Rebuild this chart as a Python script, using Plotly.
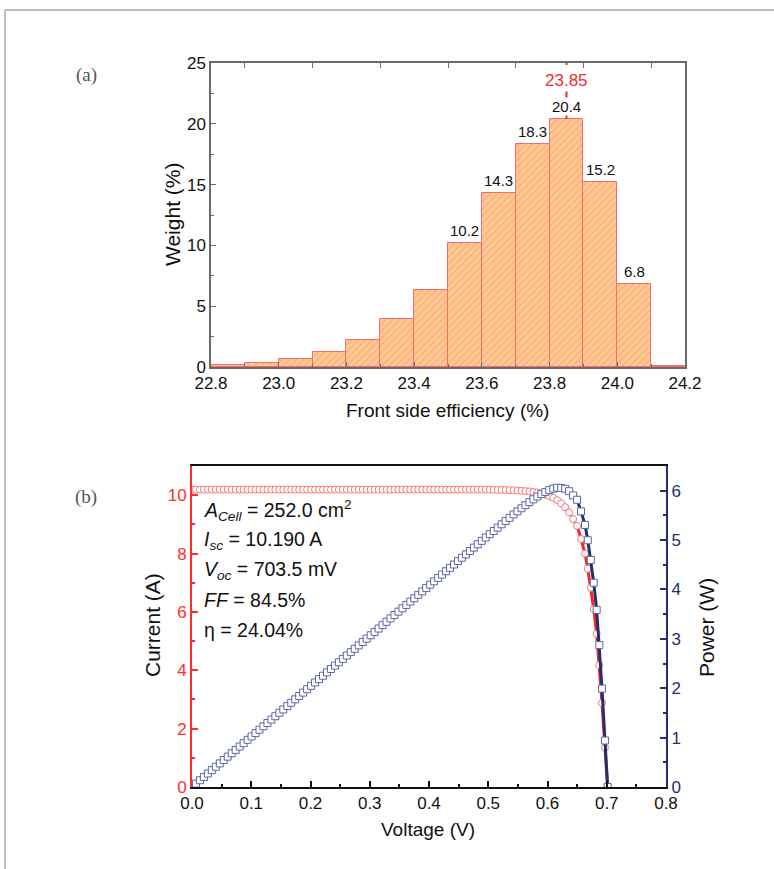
import plotly.graph_objects as go

# ---------------- data: (a) histogram ----------------
bin_left = [22.8, 22.9, 23.0, 23.1, 23.2, 23.3, 23.4, 23.5, 23.6, 23.7, 23.8, 23.9, 24.0, 24.1]
bin_width = 0.1
weight = [0.19, 0.30, 0.64, 1.22, 2.21, 3.95, 6.33, 10.2, 14.3, 18.3, 20.4, 15.2, 6.8, 0.08]
bar_labels = ["", "", "", "", "", "", "", "10.2", "14.3", "18.3", "20.4", "15.2", "6.8", ""]
peak_eff = 23.85
hist_xticks = [22.8, 23.0, 23.2, 23.4, 23.6, 23.8, 24.0, 24.2]
hist_top_ticks = [22.9, 23.1, 23.3, 23.5, 23.7, 23.9, 24.1]

# ---------------- data: (b) I-V / P-V curve ----------------
voltage = [
    0.0000, 0.0067, 0.0134, 0.0201, 0.0268, 0.0335, 0.0402, 0.0469, 0.0536, 0.0603,
    0.0670, 0.0737, 0.0804, 0.0871, 0.0938, 0.1005, 0.1072, 0.1139, 0.1206, 0.1273,
    0.1340, 0.1407, 0.1474, 0.1541, 0.1608, 0.1675, 0.1742, 0.1809, 0.1876, 0.1943,
    0.2010, 0.2077, 0.2144, 0.2211, 0.2278, 0.2345, 0.2412, 0.2479, 0.2546, 0.2613,
    0.2680, 0.2747, 0.2814, 0.2881, 0.2948, 0.3015, 0.3082, 0.3149, 0.3216, 0.3283,
    0.3350, 0.3417, 0.3484, 0.3551, 0.3618, 0.3685, 0.3752, 0.3819, 0.3886, 0.3953,
    0.4020, 0.4087, 0.4154, 0.4221, 0.4288, 0.4355, 0.4422, 0.4489, 0.4556, 0.4623,
    0.4690, 0.4757, 0.4824, 0.4891, 0.4958, 0.5025, 0.5092, 0.5159, 0.5226, 0.5293,
    0.5360, 0.5427, 0.5494, 0.5561, 0.5628, 0.5695, 0.5762, 0.5829, 0.5896, 0.5963,
    0.6030, 0.6097, 0.6164, 0.6231, 0.6298, 0.6365, 0.6432, 0.6499, 0.6566, 0.6633,
    0.6680, 0.6730, 0.6780, 0.6830, 0.6875, 0.6920, 0.6970, 0.7015,
]
current = [
    10.19, 10.19, 10.19, 10.19, 10.19, 10.19, 10.19, 10.19, 10.19, 10.19,
    10.19, 10.19, 10.19, 10.19, 10.19, 10.19, 10.19, 10.19, 10.19, 10.19,
    10.19, 10.19, 10.19, 10.19, 10.19, 10.19, 10.19, 10.19, 10.19, 10.19,
    10.19, 10.19, 10.19, 10.19, 10.19, 10.19, 10.19, 10.19, 10.19, 10.19,
    10.19, 10.19, 10.19, 10.19, 10.19, 10.19, 10.19, 10.19, 10.19, 10.19,
    10.19, 10.19, 10.19, 10.19, 10.19, 10.19, 10.19, 10.19, 10.19, 10.19,
    10.19, 10.19, 10.19, 10.19, 10.19, 10.19, 10.19, 10.19, 10.19, 10.19,
    10.19, 10.19, 10.19, 10.19, 10.19, 10.19, 10.18, 10.18, 10.18, 10.18,
    10.17, 10.17, 10.16, 10.15, 10.14, 10.13, 10.11, 10.09, 10.06, 10.02,
    9.97, 9.91, 9.83, 9.72, 9.59, 9.41, 9.18, 8.95, 8.50, 8.00,
    7.48, 6.83, 6.10, 5.25, 4.18, 2.88, 1.35, 0.00,
]
power = [v * i for v, i in zip(voltage, current)]

info_lines = [
    "<i>A</i><sub><i>Cell</i></sub> = 252.0 cm<sup>2</sup>",
    "<i>I</i><sub><i>sc</i></sub> = 10.190 A",
    "<i>V</i><sub><i>oc</i></sub> = 703.5 mV",
    "<i>FF</i> = 84.5%",
    "\u03b7 = 24.04%",
]

# ---------------- styling ----------------
W, H = 774, 869
FONT = "Liberation Sans, Arial, sans-serif"
GRAY = "#6a6a6a"
BAR_FILL = "#FFC891"
BAR_HATCH = "#F0735A"
BAR_EDGE = "#F26E6E"
RED = "#FF2E2E"
RED_LINE = "#FF2020"
RED_MARK = "#F27878"
NAVY = "#22306E"
NAVY_MARK = "#5A67A6"


def px(x):
    return x / W


def py(y):
    return 1 - y / H


fig = go.Figure()

# histogram bars
fig.add_trace(go.Bar(
    x=bin_left, y=weight, width=bin_width, offset=0,
    marker=dict(color=BAR_FILL, line=dict(color=BAR_EDGE, width=1),
                pattern=dict(shape="/", fgcolor=BAR_HATCH, size=5, solidity=0.18, fillmode="overlay")),
    xaxis="x", yaxis="y", showlegend=False, hoverinfo="skip",
))
# dummy trace for top tick axis
fig.add_trace(go.Scatter(x=[22.8], y=[0], mode="markers", marker=dict(opacity=0),
                         xaxis="x4", yaxis="y", showlegend=False, hoverinfo="skip"))

# dashed peak line
peak_val = max(weight)
fig.add_shape(type="line", xref="x", yref="y", x0=peak_eff, x1=peak_eff, y0=peak_val, y1=25,
              line=dict(color="#E8302E", width=2, dash="12px,6px"), layer="above")

# bar labels
for xl, v, lab in zip(bin_left, weight, bar_labels):
    if lab:
        fig.add_annotation(x=xl + bin_width / 2, y=v, xref="x", yref="y", text=lab,
                           showarrow=False, xanchor="center", yanchor="bottom", yshift=3,
                           font=dict(family=FONT, size=15, color="#111111"),
                           bgcolor="white" if v == peak_val else "rgba(0,0,0,0)", borderpad=0)
fig.add_annotation(x=peak_eff, y=23.6, xref="x", yref="y", text=f"{peak_eff:.2f}",
                   showarrow=False, xanchor="center", yanchor="middle",
                   font=dict(family=FONT, size=17, color="#E8302E"),
                   bgcolor="white", borderpad=1)

# IV curve
fig.add_trace(go.Scatter(
    x=voltage, y=current, mode="lines+markers", xaxis="x2", yaxis="y2",
    line=dict(color=RED_LINE, width=3),
    marker=dict(symbol="circle", size=7, color="white", line=dict(color=RED_MARK, width=1)),
    showlegend=False, hoverinfo="skip",
))
fig.add_trace(go.Scatter(
    x=voltage, y=power, mode="lines+markers", xaxis="x2", yaxis="y3",
    line=dict(color=NAVY, width=3),
    marker=dict(symbol="square", size=7, color="white", line=dict(color=NAVY_MARK, width=1)),
    showlegend=False, hoverinfo="skip",
))

# info text
for i, line in enumerate(info_lines):
    fig.add_annotation(x=px(202), y=py(510 + 30 * i), xref="paper", yref="paper",
                       text=line, showarrow=False, xanchor="left", yanchor="middle",
                       font=dict(family=FONT, size=19.5, color="#111111"))


def label(x, y, text, font, angle=0):
    fig.add_annotation(x=px(x), y=py(y), xref="paper", yref="paper", text=text,
                       textangle=angle, showarrow=False, xanchor="center", yanchor="middle",
                       font=font)


# axis titles
h_title = dict(family=FONT, size=19, color="#111111")
v_title = dict(family=FONT, size=21, color="#111111")
label(172, 215, "Weight (%)", v_title, -90)
label(448, 410, "Front side efficiency (%)", h_title)
label(152, 625, "Current (A)", v_title, -90)
label(706, 628, "Power (W)", v_title, -90)
label(428, 829, "Voltage (V)", h_title)

# panel labels
panel_font = dict(family="Liberation Serif, DejaVu Serif, serif", size=19, color="#555555")
label(86, 75, "(a)", panel_font)
label(86, 497, "(b)", panel_font)

# outer frame (top and left)
fig.add_shape(type="line", xref="paper", yref="paper", x0=px(5), x1=1, y0=py(10), y1=py(10),
              line=dict(color="#A8A8A8", width=1.5))
fig.add_shape(type="line", xref="paper", yref="paper", x0=px(5), x1=px(5), y0=py(10), y1=0,
              line=dict(color="#A8A8A8", width=1.5))

tick_font = dict(family=FONT, size=17, color="#111111")

fig.update_layout(
    width=W, height=H, margin=dict(l=0, r=0, t=0, b=0, autoexpand=False),
    paper_bgcolor="white", plot_bgcolor="white",
    bargap=0,
    xaxis=dict(domain=[px(211), px(685)], anchor="y", range=[22.8, 24.2], automargin=False,
               tickvals=hist_xticks, ticktext=[f"{t:.1f}" for t in hist_xticks],
               ticks="inside", ticklen=5, tickcolor=GRAY, tickwidth=1,
               minor=dict(ticks="inside", ticklen=3, tickcolor=GRAY, dtick=0.1, tick0=22.8),
               showline=True, linecolor=GRAY, linewidth=1.5, mirror=True,
               showgrid=False, zeroline=False, tickfont=tick_font),
    xaxis4=dict(overlaying="x", anchor="y", side="top", range=[22.8, 24.2], automargin=False,
                tickvals=hist_top_ticks, showticklabels=False,
                ticks="inside", ticklen=5, tickcolor=GRAY, tickwidth=1,
                showline=False, showgrid=False, zeroline=False),
    yaxis=dict(domain=[py(367), py(63)], anchor="x", range=[0, 25], automargin=False,
               tickmode="linear", tick0=0, dtick=5,
               ticks="inside", ticklen=5, tickcolor=GRAY, tickwidth=1,
               minor=dict(ticks="inside", ticklen=3, tickcolor=GRAY, dtick=2.5, tick0=0),
               showline=True, linecolor=GRAY, linewidth=1.5, mirror=True,
               showgrid=False, zeroline=False, tickfont=tick_font),
    xaxis2=dict(domain=[px(192), px(666)], anchor="y2", range=[0, 0.8], automargin=False,
                tickmode="linear", tick0=0, dtick=0.1, tickformat=".1f",
                ticks="inside", ticklen=6, tickcolor="#111111", tickwidth=1.5,
                minor=dict(ticks="inside", ticklen=3, tickcolor="#111111", dtick=0.05, tick0=0),
                showline=True, linecolor="#111111", linewidth=2, mirror=True,
                showgrid=False, zeroline=False, tickfont=tick_font),
    yaxis2=dict(domain=[py(787), py(466)], anchor="x2", range=[0, 11], automargin=False,
                tickmode="linear", tick0=0, dtick=2,
                ticks="inside", ticklen=6, tickcolor=RED, tickwidth=1.5,
                minor=dict(ticks="inside", ticklen=3, tickcolor=RED, dtick=1, tick0=0),
                showline=True, linecolor=RED, linewidth=2,
                showgrid=False, zeroline=False, tickfont=dict(family=FONT, size=17, color=RED)),
    yaxis3=dict(overlaying="y2", anchor="x2", side="right", range=[0, 6.5], automargin=False,
                tickmode="linear", tick0=0, dtick=1,
                ticks="inside", ticklen=6, tickcolor=NAVY, tickwidth=1.5,
                minor=dict(ticks="inside", ticklen=3, tickcolor=NAVY, dtick=0.5, tick0=0),
                showline=True, linecolor=NAVY, linewidth=2,
                showgrid=False, zeroline=False, tickfont=dict(family=FONT, size=17, color=NAVY)),
)

fig.write_html("out.html", config={"displayModeBar": False},
               post_script="document.body.style.margin='0';document.body.style.overflow='hidden';")
